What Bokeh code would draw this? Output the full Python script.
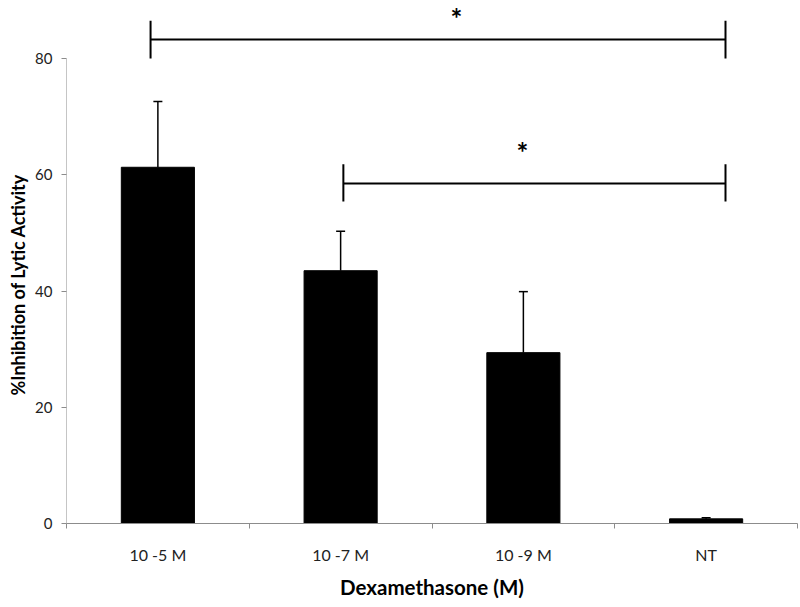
from bokeh.plotting import figure
from bokeh.models import (ColumnDataSource, FixedTicker, Range1d, Whisker, TeeHead, Title)
from bokeh.core.properties import value
from bokeh.embed import file_html
from bokeh.resources import INLINE

categories = ["10 -5 M", "10 -7 M", "10 -9 M", "NT"]
inhibition = [61.3, 43.5, 29.4, 0.8]
error = [11.3, 6.8, 10.5, 0.2]
y_ticks = [0, 20, 40, 60, 80]

# significance brackets
bracket_x0 = [0.46, 1.515]
bracket_x1 = [3.606, 3.606]
bracket_y = [83.3, 58.5]
bracket_lo = [80.0, 55.4]
bracket_hi = [86.5, 61.8]
star_x = [2.134, 2.495]
star_y = [87.0, 64.0]

FONT = "Lato"
centers = [i + 0.5 for i in range(len(categories))]
upper = [v + e for v, e in zip(inhibition, error)]

p = figure(frame_width=731, frame_height=523, output_backend="svg", toolbar_location=None,
           x_range=Range1d(0, 4), y_range=Range1d(0, 90.0),
           min_border_left=66, min_border_right=3, min_border_top=0, min_border_bottom=0)
p.outline_line_color = None
p.grid.grid_line_color = None
p.background_fill_color = "white"

src = ColumnDataSource(dict(x=centers, top=inhibition, upper=upper, cat=categories))
p.vbar(x="x", top="top", bottom=0, width=0.4, source=src, fill_color="black", line_color="black")
p.add_layout(Whisker(base="x", upper="upper", lower="top", source=src,
                     upper_head=TeeHead(size=9, line_width=1.5, line_color="black"),
                     lower_head=None, line_width=1.5, line_color="black"))

# brackets
p.segment(x0=bracket_x0, y0=bracket_y, x1=bracket_x1, y1=bracket_y, line_color="black", line_width=2)
p.segment(x0=bracket_x0, y0=bracket_lo, x1=bracket_x0, y1=bracket_hi, line_color="black", line_width=2)
p.segment(x0=bracket_x1, y0=bracket_lo, x1=bracket_x1, y1=bracket_hi, line_color="black", line_width=2)
p.text(x=star_x, y=star_y, text=["*", "*"], text_font=value(FONT), text_font_style="bold",
       text_font_size="28px", text_align="center", text_baseline="alphabetic", text_color="black")

# y axis line only up to 80
p.segment(x0=[0], y0=[0], x1=[0], y1=[y_ticks[-1]], line_color="#8c8c8c", line_width=1)

yax = p.yaxis[0]
yax.ticker = FixedTicker(ticks=y_ticks)
yax.axis_line_color = None
yax.major_tick_line_color = "#8c8c8c"
yax.major_tick_out = 5
yax.major_tick_in = 0
yax.minor_tick_line_color = None
yax.major_label_text_font = FONT
yax.major_label_text_font_size = "15px"
yax.major_label_text_color = "#222222"
yax.major_label_standoff = 9

# y axis title, placed so it is centred on the 0-80 axis span
p.add_layout(Title(text="%Inhibition of Lytic Activity", align="left", offset=128,
                   text_font=FONT, text_font_style="bold", text_font_size="18px",
                   text_color="black", standoff=8), "left")

xax = p.xaxis[0]
xax.ticker = FixedTicker(ticks=centers, minor_ticks=[0, 1, 2, 3, 4])
xax.major_label_overrides = {c: lab for c, lab in zip(centers, categories)}
xax.axis_line_color = "#8c8c8c"
xax.major_tick_line_color = None
xax.major_tick_out = 0
xax.major_tick_in = 0
xax.minor_tick_line_color = "#8c8c8c"
xax.minor_tick_out = 5
xax.minor_tick_in = 0
xax.major_label_text_font = FONT
xax.major_label_text_font_size = "16px"
xax.major_label_text_color = "#222222"
xax.major_label_standoff = 16
xax.axis_label = "Dexamethasone (M)"
xax.axis_label_text_font = FONT
xax.axis_label_text_font_style = "bold"
xax.axis_label_text_font_size = "20.5px"
xax.axis_label_text_color = "black"
xax.axis_label_standoff = 8

open("out.html", "w").write(file_html(p, INLINE))
